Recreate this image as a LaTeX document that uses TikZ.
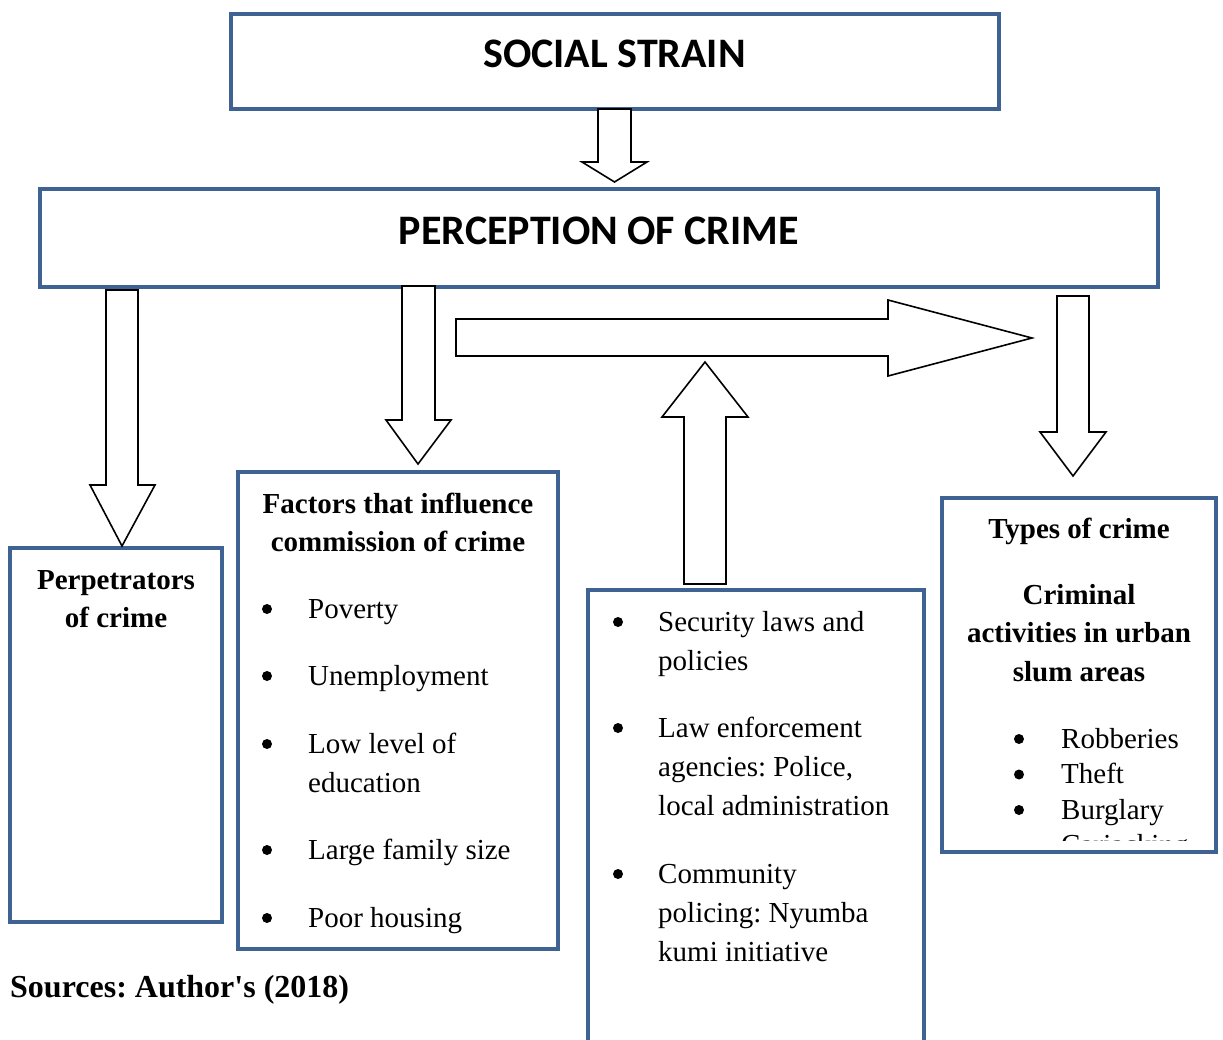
\documentclass[tikz,border=0pt]{standalone}
\usepackage{fontspec}
\setmainfont{Liberation Serif}
\newfontfamily\titlefont{Carlito}
\definecolor{boxblue}{RGB}{62,98,145}
\frenchspacing
\begin{document}
\begin{tikzpicture}[x=1pt,y=-1pt,
  box/.style={draw=boxblue, line width=4pt, fill=white, inner sep=0pt, outer sep=0pt},
  blockarrow/.style={draw=black, line width=1.6pt, fill=white, line join=miter},
  title/.style={font=\titlefont\bfseries\fontsize{42}{50}\selectfont, anchor=base, inner sep=0pt},
  headtxt/.style={font=\bfseries\fontsize{29}{38}\selectfont, anchor=base, inner sep=0pt},
  itemtxt/.style={font=\fontsize{29}{38}\selectfont, anchor=base west, inner sep=0pt},
  bul/.style={circle, fill=black, inner sep=0pt, minimum size=10pt}]
\useasboundingbox (0,0) rectangle (1223,1040);
\clip (0,0) rectangle (1223,1040);
\fill[white] (0,0) rectangle (1223,1040);

% boxes
\node[box, minimum width=768pt, minimum height=95pt] (social) at (614.5,61.5) {};
\node[box, minimum width=1118pt, minimum height=98pt] (perception) at (599,238) {};
\node[box, minimum width=212pt, minimum height=374pt] (perp) at (116,735) {};
\node[box, minimum width=320pt, minimum height=477pt] (factors) at (398,710.5) {};
\node[box, minimum width=336pt, minimum height=490pt] (security) at (756,835) {};
\node[box, minimum width=274pt, minimum height=354pt] (types) at (1079,675) {};

% block arrows
\draw[blockarrow] (598,109) -- (598,162) -- (582,162) -- (614.5,182) -- (647,162) -- (631,162) -- (631,109) -- cycle;
\draw[blockarrow] (106,290) -- (106,485) -- (90,485) -- (122,546) -- (155,485) -- (138,485) -- (138,290) -- cycle;
\draw[blockarrow] (402,286) -- (402,420) -- (386,420) -- (418,464) -- (451,420) -- (435,420) -- (435,286) -- cycle;
\draw[blockarrow] (456,319) -- (888,319) -- (888,300) -- (1032,338) -- (888,376) -- (888,356) -- (456,356) -- cycle;
\draw[blockarrow] (684,584) -- (684,417) -- (662,417) -- (705,362) -- (748,417) -- (726,417) -- (726,584) -- cycle;
\draw[blockarrow] (1057,296) -- (1057,432) -- (1040,432) -- (1073,476) -- (1106,432) -- (1089,432) -- (1089,296) -- cycle;

% titles
\node[title] (tsocial) at (614.5,68) {SOCIAL STRAIN};
\node[title] (tperc) at (599,245) {PERCEPTION OF CRIME};

% perpetrators
\node[headtxt] (hp1) at (116,589) {Perpetrators};
\node[headtxt] (hp2) at (116,627) {of crime};

% factors
\node[headtxt] (hf1) at (398,513) {Factors that influence};
\node[headtxt] (hf2) at (398,551) {commission of crime};
\foreach \yy/\nm in {618/b1,685/b2,753/b3,859/b4,927/b5} \node[bul] (f\nm) at (267,\yy-9) {};
\node[itemtxt] (fi1) at (308,618) {Poverty};
\node[itemtxt] (fi2) at (308,685) {Unemployment};
\node[itemtxt] (fi3) at (308,753) {Low level of};
\node[itemtxt] (fi3b) at (308,792) {education};
\node[itemtxt] (fi4) at (308,859) {Large family size};
\node[itemtxt] (fi5) at (308,927) {Poor housing};

% security
\foreach \yy/\nm in {631/b1,737/b2,883/b3} \node[bul] (s\nm) at (618,\yy-9) {};
\node[itemtxt] (si1) at (658,631) {Security laws and};
\node[itemtxt] (si1b) at (658,670) {policies};
\node[itemtxt] (si2) at (658,737) {Law enforcement};
\node[itemtxt] (si2b) at (658,776) {agencies: Police,};
\node[itemtxt] (si2c) at (658,815) {local administration};
\node[itemtxt] (si3) at (658,883) {Community};
\node[itemtxt] (si3b) at (658,922) {policing: Nyumba};
\node[itemtxt] (si3c) at (658,961) {kumi initiative};

% types
\node[headtxt] (ht1) at (1079,538) {Types of crime};
\node[headtxt] (ht2) at (1079,604) {Criminal};
\node[headtxt] (ht3) at (1079,642) {activities in urban};
\node[headtxt] (ht4) at (1079,681) {slum areas};
\foreach \yy/\nm in {748/b1,783.5/b2,819/b3} \node[bul] (t\nm) at (1019,\yy-9) {};
\node[itemtxt] (ti1) at (1061,748) {Robberies};
\node[itemtxt] (ti2) at (1061,783.5) {Theft};
\node[itemtxt] (ti3) at (1061,819) {Burglary};
\begin{scope}
\clip (944,500) rectangle (1214,840);
\node[itemtxt] (ti4) at (1061,854.5) {Carjacking};
\end{scope}

% source
\node[font=\bfseries\fontsize{32}{38}\selectfont, anchor=base west, inner sep=0pt] (src) at (10,997) {Sources: Author\textquotesingle s (2018)};
\end{tikzpicture}
\end{document}
